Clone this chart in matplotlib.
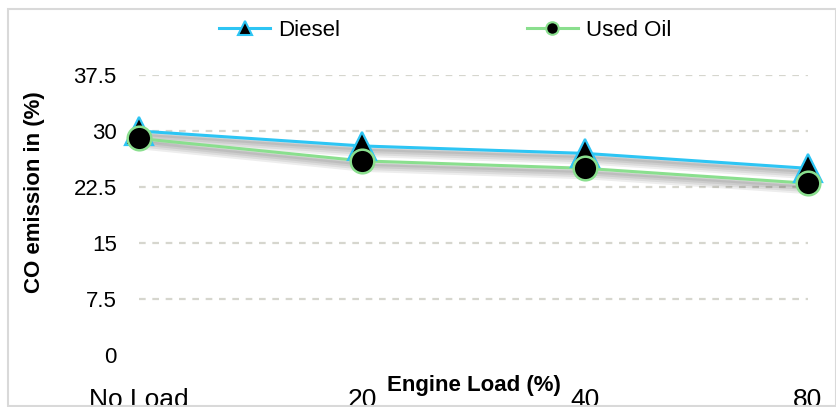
import matplotlib.pyplot as plt
import matplotlib.patheffects as pe
from matplotlib.lines import Line2D
from matplotlib.patches import Rectangle

# data
loads = ["No Load", "20", "40", "80"]
diesel = [30, 28, 27, 25]
used_oil = [29, 26, 25, 23]
yticks = [0, 7.5, 15, 22.5, 30, 37.5]
ytick_labels = ["0", "7.5", "15", "22.5", "30", "37.5"]

blue = "#2DC5F4"
green = "#8ADF8E"

plt.rcParams["font.family"] = ["Liberation Sans", "DejaVu Sans"]

fig = plt.figure(figsize=(8.37, 4.07), dpi=100)
ax = fig.add_axes([139 / 837, 1 - 355 / 407, (808 - 139) / 837, (355 - 75) / 407])

x = list(range(len(loads)))

# soft blurred shadow under the lines (several faint offset copies)
shadow = [pe.SimpleLineShadow(offset=(1 + 0.4 * i, -2 - i), shadow_color="black", alpha=0.07,
                              linewidth=3 + i)
          for i in range(4)] + [pe.Normal()]

# lines with shadow, then markers on top
ax.plot(x, diesel, color=blue, lw=2.2, path_effects=shadow, zorder=3)
ax.plot(x, used_oil, color=green, lw=2.2, path_effects=shadow, zorder=3)
ax.plot(x, diesel, ls="none", marker="^", ms=20, mfc="black", mec=blue, mew=1.6, zorder=4, clip_on=False)
ax.plot(x, used_oil, ls="none", marker="o", ms=17, mfc="black", mec=green, mew=1.8, zorder=5, clip_on=False)

ax.set_xlim(0, 3)
ax.set_ylim(0, 37.5)
ax.set_xticks(x)
ax.set_xticklabels(loads, fontsize=19)
ax.set_yticks(yticks)
ax.set_yticklabels(ytick_labels, fontsize=16)
ax.tick_params(axis="x", length=0, pad=24)
ax.tick_params(axis="y", length=0, pad=16)
for s in ax.spines.values():
    s.set_visible(False)

ax.yaxis.grid(True, color="#D6D6CE", ls=(0, (3, 3)), lw=1.6)
ax.yaxis.get_gridlines()[0].set_visible(False)
ax.set_axisbelow(True)

ax.set_xlabel("Engine Load (%)", fontsize=16, fontweight="bold")
ax.xaxis.set_label_coords(0.5, -(386 - 355) / 280)
ax.xaxis.label.set_va("center")
ax.set_ylabel("CO emission in (%)", fontsize=16, fontweight="bold")
ax.yaxis.set_label_coords((35 - 139) / 669, (355 - 192) / 280)
ax.yaxis.label.set_va("center")

handles = [
    Line2D([], [], color=blue, lw=2.2, marker="^", ms=10, mfc="black", mec=blue, mew=1.5),
    Line2D([], [], color=green, lw=2.2, marker="o", ms=9, mfc="black", mec=green, mew=1.5),
]
fig.legend(handles, ["Diesel", "Used Oil"], loc="center", bbox_to_anchor=(445 / 837, 1 - 30 / 407),
           ncol=2, frameon=False, fontsize=16, handlelength=2.3, handletextpad=0.35,
           columnspacing=8.4)

# light chart border
fig.patches.append(Rectangle((8 / 837, 1 / 407), 1 - 9 / 837, 1 - 10 / 407, transform=fig.transFigure,
                             fill=False, edgecolor="#D9D9D9", lw=1.5))

fig.savefig("out.png", dpi=100)
